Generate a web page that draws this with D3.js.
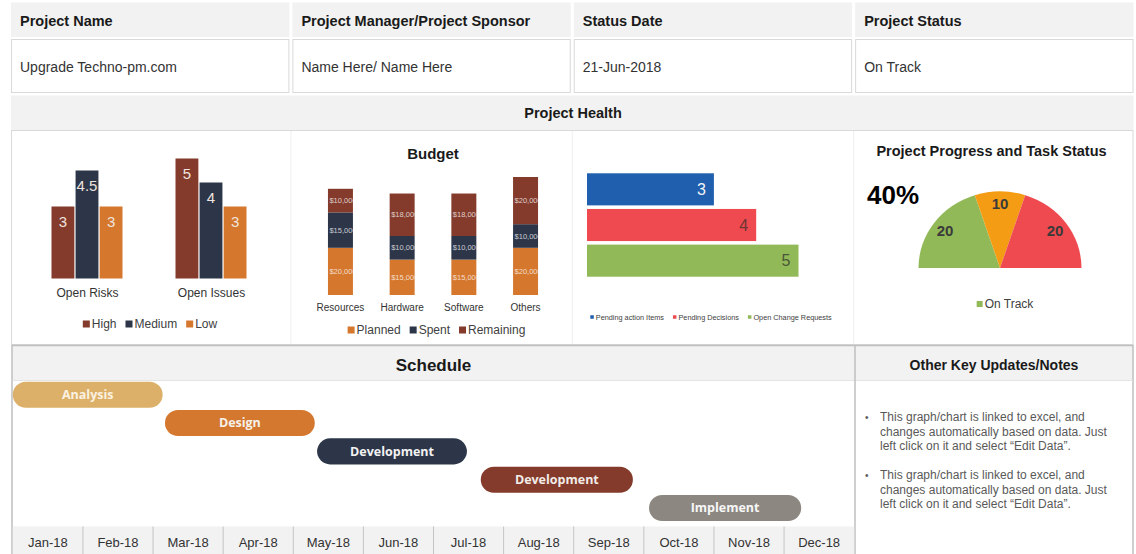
<!DOCTYPE html>
<html lang="en">
<head>
<meta charset="UTF-8">
<title>Project Status Report</title>
<script src="https://d3js.org/d3.v7.min.js"></script>
<style>
  body { margin: 0; background: #fff; }
  svg text { font-family: "Liberation Sans", Arial, sans-serif; }
  .gantt-label { font-family: "Open Sans", "Liberation Sans", sans-serif !important; font-weight: bold; }
</style>
</head>
<body>
<div id="chart-container"></div>
<script>
// header table
const headerLabels = ["Project Name", "Project Manager/Project Sponsor", "Status Date", "Project Status"];
const headerValues = ["Upgrade Techno-pm.com", "Name Here/ Name Here", "21-Jun-2018", "On Track"];

// open risks / issues
const riskCategories = ["Open Risks", "Open Issues"];
const riskSeries = ["High", "Medium", "Low"];
const riskHigh = [3, 5];
const riskMedium = [4.5, 4];
const riskLow = [3, 3];

// budget
const budgetCategories = ["Resources", "Hardware", "Software", "Others"];
const budgetSeries = ["Planned", "Spent", "Remaining"];
const budgetPlanned = [20000, 15000, 15000, 20000];
const budgetSpent = [15000, 10000, 10000, 10000];
const budgetRemaining = [10000, 18000, 18000, 20000];

// pending items
const pendingCategories = ["Pending action Items", "Pending Decisions", "Open Change Requests"];
const pendingValues = [3, 4, 5];

// progress gauge
const progressText = "40%";
const gaugeValues = [20, 10, 20];
const gaugeLegend = ["On Track"];

// schedule
const months = ["Jan-18", "Feb-18", "Mar-18", "Apr-18", "May-18", "Jun-18",
                "Jul-18", "Aug-18", "Sep-18", "Oct-18", "Nov-18", "Dec-18"];
const taskNames = ["Analysis", "Design", "Development", "Development", "Implement"];
const taskStarts = ["2018-01-01", "2018-03-08", "2018-05-13", "2018-07-23", "2018-10-04"];
const taskEnds = ["2018-03-07", "2018-05-12", "2018-07-17", "2018-09-27", "2018-12-09"];

// notes
const noteLines = [
    ["This graph/chart is linked to excel, and", "changes automatically based on data. Just", "left click on it and select \u201CEdit Data\u201D."],
    ["This graph/chart is linked to excel, and", "changes automatically based on data. Just", "left click on it and select \u201CEdit Data\u201D."]
];

const W = 1136, H = 554;
const gray = "#f2f2f2", border = "#d9d9d9";
const navy = "#2d3649", rust = "#843b2b", orange = "#d5782e";

const svg = d3.select("#chart-container").append("svg")
    .attr("width", W)
    .attr("height", H);

svg.append("rect").attr("width", W).attr("height", H).attr("fill", "#fff");

// ---------- header table ----------
const colX = d3.scaleBand()
    .domain(headerLabels)
    .range([11, 1133.5])
    .paddingInner(0.0107);

svg.selectAll(".hcell")
    .data(headerLabels)
    .enter().append("rect")
    .attr("x", d => colX(d))
    .attr("y", 2.5)
    .attr("width", colX.bandwidth())
    .attr("height", 34.5)
    .attr("fill", gray);

svg.selectAll(".hlabel")
    .data(headerLabels)
    .enter().append("text")
    .attr("x", d => colX(d) + 9)
    .attr("y", 21)
    .attr("dy", "0.35em")
    .attr("font-size", 14.5)
    .attr("font-weight", "bold")
    .attr("fill", "#1a1a1a")
    .text(d => d);

svg.selectAll(".vcell")
    .data(headerLabels)
    .enter().append("rect")
    .attr("x", d => colX(d) + 0.5)
    .attr("y", 39.5)
    .attr("width", colX.bandwidth() - 1)
    .attr("height", 53)
    .attr("fill", "#fff")
    .attr("stroke", border);

svg.selectAll(".vlabel")
    .data(headerValues)
    .enter().append("text")
    .attr("x", (d, i) => colX(headerLabels[i]) + 9)
    .attr("y", 67)
    .attr("dy", "0.35em")
    .attr("font-size", 14)
    .attr("fill", "#333")
    .text(d => d);

// ---------- project health ----------
svg.append("rect")
    .attr("x", 11).attr("y", 95.5)
    .attr("width", 1122.5).attr("height", 35)
    .attr("fill", gray);

svg.append("text")
    .attr("x", 573).attr("y", 113).attr("dy", "0.35em")
    .attr("text-anchor", "middle")
    .attr("font-size", 14.5).attr("font-weight", "bold")
    .attr("fill", "#1a1a1a")
    .text("Project Health");

svg.append("rect")
    .attr("x", 11.5).attr("y", 130.5)
    .attr("width", 1121.5).attr("height", 214)
    .attr("fill", "none")
    .attr("stroke", border);

svg.selectAll(".hdiv")
    .data(headerLabels.slice(1))
    .enter().append("line")
    .attr("x1", d => colX(d) - 1.5).attr("x2", d => colX(d) - 1.5)
    .attr("y1", 131).attr("y2", 344)
    .attr("stroke", "#efefef");

function legend(items, colors, cx, cy, fontSize, sq, gap) {
    const g = svg.append("g");
    let x = 0;
    items.forEach((name, i) => {
        g.append("rect")
            .attr("x", x).attr("y", cy - sq / 2)
            .attr("width", sq).attr("height", sq)
            .attr("fill", colors[i]);
        const t = g.append("text")
            .attr("x", x + sq + 2).attr("y", cy).attr("dy", "0.35em")
            .attr("font-size", fontSize)
            .attr("fill", "#404040")
            .text(name);
        x += sq + 2 + t.node().getComputedTextLength() + gap;
    });
    const total = x - gap;
    g.attr("transform", `translate(${cx - total / 2},0)`);
}

// risks / issues grouped bars
const riskValues = [riskHigh, riskMedium, riskLow];
const xRisk = d3.scalePoint().domain(riskCategories).range([87, 211]);
const xRiskInner = d3.scaleBand().domain(riskSeries).range([-35.5, 35.5]).paddingInner(0.05);
const yRisk = d3.scaleLinear().domain([0, 5]).range([278.5, 158.5]);
const riskColor = d3.scaleOrdinal().domain(riskSeries).range([rust, navy, orange]);

const riskRows = [];
riskCategories.forEach((c, ci) => riskSeries.forEach((s, si) =>
    riskRows.push({ cat: c, series: s, value: riskValues[si][ci] })));

svg.selectAll(".riskbar")
    .data(riskRows)
    .enter().append("rect")
    .attr("x", d => xRisk(d.cat) + xRiskInner(d.series))
    .attr("y", d => yRisk(d.value))
    .attr("width", xRiskInner.bandwidth())
    .attr("height", d => yRisk(0) - yRisk(d.value))
    .attr("fill", d => riskColor(d.series));

svg.selectAll(".risklabel")
    .data(riskRows)
    .enter().append("text")
    .attr("x", d => xRisk(d.cat) + xRiskInner(d.series) + xRiskInner.bandwidth() / 2)
    .attr("y", d => yRisk(d.value) + 15)
    .attr("dy", "0.35em")
    .attr("text-anchor", "middle")
    .attr("font-size", 15)
    .attr("fill", "#efe4df")
    .text(d => d.value);

svg.append("g")
    .attr("transform", "translate(0,293)")
    .call(d3.axisBottom(xRisk).tickSize(0))
    .call(g => g.select(".domain").remove())
    .call(g => g.selectAll("text")
        .attr("y", 0).attr("dy", "0.35em")
        .attr("font-size", 12).attr("fill", "#333")
        .style("font-family", "'Liberation Sans', Arial, sans-serif"));

legend(riskSeries, [rust, navy, orange], 150, 324, 12, 7, 9);

// budget stacked bars
svg.append("text")
    .attr("x", 433).attr("y", 154).attr("dy", "0.35em")
    .attr("text-anchor", "middle")
    .attr("font-size", 15).attr("font-weight", "bold")
    .attr("fill", "#1a1a1a")
    .text("Budget");

const budgetRows = budgetCategories.map((c, i) => ({
    category: c, Planned: budgetPlanned[i], Spent: budgetSpent[i], Remaining: budgetRemaining[i]
}));
const stacked = d3.stack().keys(budgetSeries)(budgetRows);
const xBudget = d3.scaleBand().domain(budgetCategories).range([309.6, 556.4])
    .paddingInner(0.595).paddingOuter(0.2975);
const yBudget = d3.scaleLinear().domain([0, 50000]).range([295, 177]);
const budgetColor = d3.scaleOrdinal().domain(budgetSeries).range([orange, navy, rust]);

budgetCategories.forEach((c, i) => {
    svg.append("clipPath").attr("id", "clip-b" + i)
        .append("rect")
        .attr("x", xBudget(c)).attr("y", 150)
        .attr("width", xBudget.bandwidth()).attr("height", 160);
});

const layers = svg.selectAll(".layer")
    .data(stacked)
    .enter().append("g")
    .attr("fill", d => budgetColor(d.key));

layers.selectAll("rect")
    .data(d => d)
    .enter().append("rect")
    .attr("x", d => xBudget(d.data.category))
    .attr("y", d => yBudget(d[1]))
    .attr("width", xBudget.bandwidth())
    .attr("height", d => yBudget(d[0]) - yBudget(d[1]));

const money = d3.format("$,");
layers.selectAll("text")
    .data(d => d)
    .enter().append("text")
    .attr("clip-path", d => `url(#clip-b${budgetCategories.indexOf(d.data.category)})`)
    .attr("x", d => xBudget(d.data.category) + 1.5)
    .attr("y", d => (yBudget(d[0]) + yBudget(d[1])) / 2)
    .attr("dy", "0.35em")
    .attr("font-size", 7.5)
    .attr("fill", "#fff")
    .attr("fill-opacity", 0.75)
    .text(d => money(d[1] - d[0]));

svg.append("g")
    .attr("transform", "translate(0,307)")
    .call(d3.axisBottom(xBudget).tickSize(0))
    .call(g => g.select(".domain").remove())
    .call(g => g.selectAll("text")
        .attr("y", 0).attr("dy", "0.35em")
        .attr("font-size", 10).attr("fill", "#333")
        .style("font-family", "'Liberation Sans', Arial, sans-serif"));

legend(budgetSeries, [orange, navy, rust], 436.5, 330, 12, 7, 9);

// pending horizontal bars
const pendColors = ["#1f5fae", "#ee4a4f", "#92b957"];
const pendText = ["#f4f4f4", "#6e3434", "#4a5638"];
const yPend = d3.scaleBand().domain(pendingCategories).range([171.5, 278.5])
    .paddingInner(0.1).paddingOuter(0.05);
const xPend = d3.scaleLinear().domain([0, 5]).range([587, 798.5]);

svg.selectAll(".pbar")
    .data(pendingValues)
    .enter().append("rect")
    .attr("x", xPend(0))
    .attr("y", (d, i) => yPend(pendingCategories[i]))
    .attr("width", d => xPend(d) - xPend(0))
    .attr("height", yPend.bandwidth())
    .attr("fill", (d, i) => pendColors[i]);

svg.selectAll(".plabel")
    .data(pendingValues)
    .enter().append("text")
    .attr("x", d => xPend(d) - 8)
    .attr("y", (d, i) => yPend(pendingCategories[i]) + yPend.bandwidth() / 2)
    .attr("dy", "0.35em")
    .attr("text-anchor", "end")
    .attr("font-size", 16)
    .attr("fill", (d, i) => pendText[i])
    .text(d => d);

legend(pendingCategories, pendColors, 711, 317, 7.3, 3.5, 9);

// progress gauge
svg.append("text")
    .attr("x", 991.5).attr("y", 151).attr("dy", "0.35em")
    .attr("text-anchor", "middle")
    .attr("font-size", 14.5).attr("font-weight", "bold")
    .attr("fill", "#1a1a1a")
    .text("Project Progress and Task Status");

svg.append("text")
    .attr("x", 867).attr("y", 204)
    .attr("font-size", 26).attr("font-weight", "bold")
    .attr("fill", "#000")
    .text(progressText);

const gaugeColors = ["#92b957", "#f39c14", "#ee4a4f"];
const pie = d3.pie().sort(null).startAngle(-Math.PI / 2).endAngle(Math.PI / 2);
const arc = d3.arc().innerRadius(0).outerRadius(81.5);
const labelArc = d3.arc().innerRadius(68).outerRadius(68);
const slices = pie(gaugeValues);
const squash = 0.94;

svg.append("g")
    .attr("transform", `translate(1000,268) scale(1,${squash})`)
    .selectAll("path")
    .data(slices)
    .enter().append("path")
    .attr("d", arc)
    .attr("fill", (d, i) => gaugeColors[i]);

svg.append("g")
    .attr("transform", "translate(1000,268)")
    .selectAll("text")
    .data(slices)
    .enter().append("text")
    .attr("x", d => labelArc.centroid(d)[0])
    .attr("y", d => labelArc.centroid(d)[1] * squash)
    .attr("dy", "0.35em")
    .attr("text-anchor", "middle")
    .attr("font-size", 15).attr("font-weight", "bold")
    .attr("fill", "#3a3a3a")
    .text(d => d.data);

legend(gaugeLegend, gaugeColors, 1005, 304, 12, 6, 8);

// ---------- schedule ----------
svg.append("rect")
    .attr("x", 12.5).attr("y", 346)
    .attr("width", 1120.5).attr("height", 34.5)
    .attr("fill", gray);

svg.append("rect")
    .attr("x", 12).attr("y", 345.5)
    .attr("width", 1121).attr("height", 212)
    .attr("fill", "none")
    .attr("stroke", "#bfbfbf").attr("stroke-width", 1.5);

svg.append("line")
    .attr("x1", 12.5).attr("x2", 1133)
    .attr("y1", 380.5).attr("y2", 380.5)
    .attr("stroke", "#e4e4e4");

svg.append("line")
    .attr("x1", 855).attr("x2", 855)
    .attr("y1", 345.5).attr("y2", H)
    .attr("stroke", "#bfbfbf").attr("stroke-width", 1.5);

svg.append("text")
    .attr("x", 433.5).attr("y", 365).attr("dy", "0.35em")
    .attr("text-anchor", "middle")
    .attr("font-size", 17).attr("font-weight", "bold")
    .attr("fill", "#1a1a1a")
    .text("Schedule");

svg.append("text")
    .attr("x", 994).attr("y", 365).attr("dy", "0.35em")
    .attr("text-anchor", "middle")
    .attr("font-size", 14).attr("font-weight", "bold")
    .attr("fill", "#1a1a1a")
    .text("Other Key Updates/Notes");

const xMonth = d3.scaleBand().domain(months).range([12.8, 854.2]);

svg.append("rect")
    .attr("x", 12.8).attr("y", 526.5)
    .attr("width", 841.4).attr("height", 30)
    .attr("fill", gray);

svg.selectAll(".mdiv")
    .data(months.slice(1))
    .enter().append("line")
    .attr("x1", d => xMonth(d)).attr("x2", d => xMonth(d))
    .attr("y1", 526.5).attr("y2", H)
    .attr("stroke", "#c4c4c4");

svg.append("g")
    .attr("transform", "translate(0,542.5)")
    .call(d3.axisBottom(xMonth).tickSize(0))
    .call(g => g.select(".domain").remove())
    .call(g => g.selectAll("text")
        .attr("y", 0).attr("dy", "0.35em")
        .attr("font-size", 13).attr("fill", "#333")
        .style("font-family", "'Liberation Sans', Arial, sans-serif"));

const parseDate = d3.timeParse("%Y-%m-%d");
const xTime = d3.scaleTime()
    .domain([new Date(2018, 0, 1), new Date(2019, 0, 1)])
    .range([12.8, 854.2]);
const yTask = d3.scaleBand().domain(d3.range(taskNames.length))
    .range([380.5, 522.2]).paddingInner(0.08).paddingOuter(0.04);
const taskColors = ["#dcb068", "#d4782f", navy, rust, "#8c8781"];
const taskText = ["#fbf1e0", "#f6f0ea", "#f2f2f2", "#f2ece8", "#f7f7f7"];

const tasks = taskNames.map((n, i) => ({
    name: n, i: i, start: parseDate(taskStarts[i]), end: parseDate(taskEnds[i])
}));

svg.selectAll(".task")
    .data(tasks)
    .enter().append("rect")
    .attr("x", d => xTime(d.start))
    .attr("y", d => yTask(d.i))
    .attr("width", d => xTime(d.end) - xTime(d.start))
    .attr("height", yTask.bandwidth())
    .attr("rx", yTask.bandwidth() / 2)
    .attr("fill", d => taskColors[d.i]);

svg.selectAll(".tasklabel")
    .data(tasks)
    .enter().append("text")
    .attr("class", "gantt-label")
    .attr("x", d => (xTime(d.start) + xTime(d.end)) / 2)
    .attr("y", d => yTask(d.i) + yTask.bandwidth() / 2)
    .attr("dy", "0.35em")
    .attr("text-anchor", "middle")
    .attr("font-size", 12.5)
    .attr("fill", d => taskText[d.i])
    .text(d => d.name);

// notes
noteLines.forEach((lines, p) => {
    const top = 417 + p * 58;
    svg.append("text")
        .attr("x", 865).attr("y", top).attr("dy", "0.35em")
        .attr("font-size", 10).attr("fill", "#595959")
        .text("\u2022");
    svg.selectAll(".note" + p)
        .data(lines)
        .enter().append("text")
        .attr("x", 880)
        .attr("y", (d, i) => top + i * 14.5)
        .attr("dy", "0.35em")
        .attr("font-size", 12)
        .attr("fill", "#595959")
        .text(d => d);
});
</script>
</body>
</html>
